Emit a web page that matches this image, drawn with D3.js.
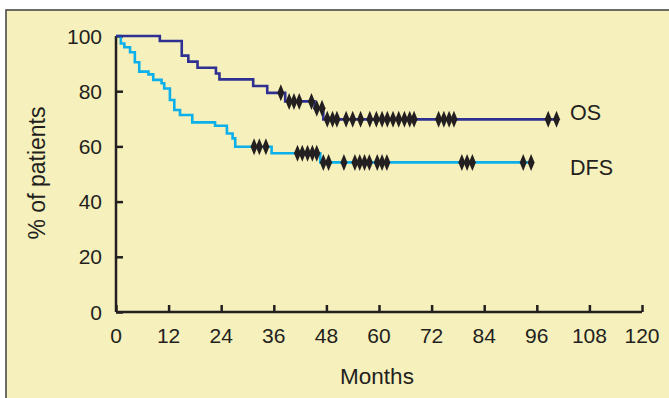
<!DOCTYPE html>
<html>
<head>
<meta charset="utf-8">
<script src="https://cdn.jsdelivr.net/npm/d3@7/dist/d3.min.js"></script>
<style>
  html, body { margin: 0; padding: 0; background: #ffffff; }
  svg { display: block; }
  text { font-family: "Liberation Sans", Arial, sans-serif; fill: #231f20; }
</style>
</head>
<body>
<svg id="chart" width="669" height="398"></svg>
<script>
// ---- data ----
const osMonths  = [0, 10, 15, 16.5, 18.6, 22.8, 23.6, 31.3, 34.5, 38.6, 45.3, 47.3, 100.5];
const osSurv    = [100, 98.2, 92.9, 90.7, 88.5, 86.4, 84.3, 81.9, 79.4, 76.3, 73.8, 69.8, 69.8];
const osCensor  = [37.6, 39.5, 40.6, 41.8, 44.6, 45.8, 47, 48.2, 49.4, 50.4, 52.5, 54, 55.8, 57.9,
                   59.4, 60.7, 61.9, 63.2, 64.5, 65.8, 67, 68, 73.6, 74.8, 76, 77.1, 98.6, 100.5];

const dfsMonths = [0, 1.1, 1.9, 3.2, 4.3, 5.3, 7.4, 8.5, 10.4, 11, 12.3, 13.3, 14.6, 17.4, 22.6,
                   25.3, 26.6, 27.2, 35.5, 46.6, 94.7];
const dfsSurv   = [100, 97.3, 95.9, 94.1, 90.5, 87.1, 86.1, 84.1, 82.9, 81.0, 76.8, 73.2, 71.4, 68.7,
                   67.5, 64.7, 62.9, 59.9, 57.5, 54.2, 54.2];
const dfsCensor = [31.5, 32.7, 34.2, 41.4, 42.5, 43.7, 44.8, 45.8, 47.3, 48.5, 52, 54.5, 55.6, 56.7,
                   57.8, 59.6, 60.7, 61.8, 78.9, 80.1, 81.3, 92.9, 94.7];

const xTicks = [0, 12, 24, 36, 48, 60, 72, 84, 96, 108, 120];
const yTicks = [0, 20, 40, 60, 80, 100];
const seriesNames = ["OS", "DFS"];

// ---- drawing ----
const svg = d3.select("#chart");
const ink = "#231f20";

// panel
svg.append("rect").attr("x", 6).attr("y", 10).attr("width", 700).attr("height", 420)
  .attr("fill", "#f6f0bc").attr("stroke", "#4a4a4a").attr("stroke-width", 1.6);

const x = d3.scaleLinear().domain([0, 120]).range([116, 642]);
const y = d3.scaleLinear().domain([0, 100]).range([312, 36]);

// x axis
const xAxis = svg.append("g").attr("transform", `translate(0,${y(0)})`)
  .call(d3.axisTop(x).tickValues(xTicks).tickSize(7).tickPadding(0).tickFormat(""));
xAxis.select(".domain").attr("stroke", ink).attr("stroke-width", 2.5).attr("d", `M${x(0)},0H${x(120)}`);
xAxis.selectAll(".tick line").attr("stroke", ink).attr("stroke-width", 2.5);
svg.append("g").selectAll("text").data(xTicks).join("text")
  .attr("x", d => x(d)).attr("y", 343).attr("text-anchor", "middle")
  .attr("font-size", 21).text(d => d);

// y axis
const yAxis = svg.append("g").attr("transform", `translate(${x(0)},0)`)
  .call(d3.axisRight(y).tickValues(yTicks).tickSize(7).tickFormat(""));
yAxis.select(".domain").attr("stroke", ink).attr("stroke-width", 2.5).attr("d", `M0,${y(0)}V${y(100)}`);
yAxis.selectAll(".tick line").attr("stroke", ink).attr("stroke-width", 2.5);
svg.append("g").selectAll("text").data(yTicks).join("text")
  .attr("x", 102).attr("y", d => y(d)).attr("dy", "0.36em").attr("text-anchor", "end")
  .attr("font-size", 21).text(d => d);

// axis titles
svg.append("text").attr("x", 377).attr("y", 384).attr("text-anchor", "middle")
  .attr("font-size", 22.5).text("Months");
svg.append("text").attr("transform", `translate(45,${y(50) - 1}) rotate(-90)`)
  .attr("text-anchor", "middle").attr("font-size", 23).text("% of patients");

// curves
const stepLine = d3.line().x(d => x(d[0])).y(d => y(d[1])).curve(d3.curveStepAfter);
function stepValue(months, surv, t) {
  let v = surv[0];
  for (let i = 0; i < months.length; i++) { if (months[i] <= t) v = surv[i]; }
  return v;
}
const series = [
  { name: seriesNames[1], months: dfsMonths, surv: dfsSurv, censor: dfsCensor, color: "#0bb0ea" },
  { name: seriesNames[0], months: osMonths,  surv: osSurv,  censor: osCensor,  color: "#2e3191" }
];
series.forEach(s => {
  svg.append("path").datum(s.months.map((m, i) => [m, s.surv[i]]))
    .attr("d", stepLine).attr("fill", "none").attr("stroke", s.color).attr("stroke-width", 2.6);
});
const diamond = "M0,-8.5L3.5,0L0,8.5L-3.5,0Z";
series.forEach(s => {
  svg.append("g").selectAll("path").data(s.censor).join("path")
    .attr("transform", d => `translate(${x(d)},${y(stepValue(s.months, s.surv, d))})`)
    .attr("d", diamond).attr("fill", ink);
});

// series labels
svg.append("text").attr("x", 570).attr("y", 120).attr("font-size", 21.5).text(seriesNames[0]);
svg.append("text").attr("x", 570).attr("y", 175).attr("font-size", 21.5).text(seriesNames[1]);
</script>
</body>
</html>
